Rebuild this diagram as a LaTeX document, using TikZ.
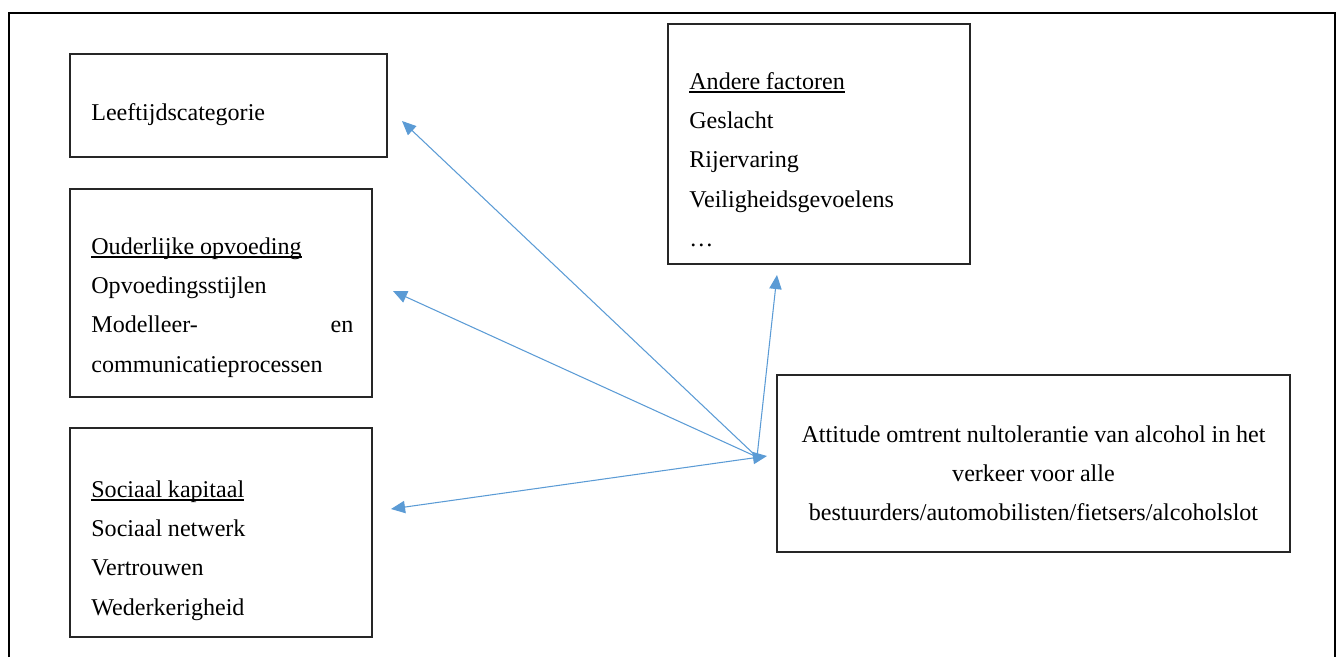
\documentclass[tikz,border=0pt]{standalone}
\usepackage{fontspec}
\setmainfont{Liberation Serif}
\usetikzlibrary{positioning, fit, calc}
\usetikzlibrary{arrows.meta}

\definecolor{linkblue}{HTML}{5B9BD5}
% underline close to the baseline, as in the original
\newcommand{\ulhead}[1]{\setbox0\hbox{#1}\rlap{\rule[-2.1pt]{\wd0}{0.7pt}}\box0}

\begin{document}
\begin{tikzpicture}[
    x=0.02cm, y=-0.02cm,
    box/.style={draw=black!85, line width=0.8pt, inner sep=0pt},
    txt/.style={inner sep=0pt, anchor=base west, align=left, font={\fontsize{13.7}{22.4}\selectfont},
        execute at begin node={\spaceskip=0.24em\xspaceskip=0.24em\relax}},
    link/.style={linkblue, line width=0.6pt, >={Triangle[length=8pt, width=7pt]}}
]
    \useasboundingbox (0,0) rectangle (1336,657);

    % --- outer frame (open at the bottom)
    \draw[line width=1.1pt] (9,657) -- (9,13) -- (1335,13) -- (1335,657);

    % --- Left column
    \node[box, fit={(70,54) (387,157)}] (leeftijd) {};
    \node[txt, text width=5.8cm] (leeftijdtxt) at (91,120) {Leeftijdscategorie};

    \node[box, fit={(70,189) (372,397)}] (ouders) {};
    \node[txt, text width=5.24cm] (ouderstxt) at (91,254) {\ulhead{Ouderlijke opvoeding}\\
        Opvoedingsstijlen\\
        Modelleer-\hfill en\\
        communicatieprocessen};

    \node[box, fit={(70,428) (372,637)}] (sociaal) {};
    \node[txt, text width=5.24cm] (sociaaltxt) at (91,497) {\ulhead{Sociaal kapitaal}\\
        Sociaal netwerk\\
        Vertrouwen\\
        Wederkerigheid};

    % --- Right column
    \node[box, fit={(668,24) (970,264)}] (andere) {};
    \node[txt, text width=5.2cm] (anderetxt) at (689,89) {\ulhead{Andere factoren}\\
        Geslacht\\
        Rijervaring\\
        Veiligheidsgevoelens\\
        \dots};

    \node[box, fit={(777,375) (1290,552)}] (attitude) {};
    \node[txt, anchor=base, align=center, text width=9.8cm] (attitudetxt) at (1033.5,442)
        {Attitude omtrent nultolerantie van alcohol in het\\
        verkeer voor alle\\
        bestuurders/automobilisten/fietsers/alcoholslot};

    % --- Links
    \coordinate (hub) at (757,457);
    \coordinate (toleeftijd) at (402,121);
    \coordinate (toouders) at (393,291);
    \coordinate (tosociaal) at (391,509);
    \coordinate (toandere) at (777,275);
    \coordinate (toattitude) at (767,456);

    \draw[link, ->] (hub) -- (toleeftijd);
    \draw[link, ->] (hub) -- (toouders);
    \draw[link, ->] (hub) -- (toandere);
    \draw[link, <->] (tosociaal) -- (toattitude);

\end{tikzpicture}
\end{document}
